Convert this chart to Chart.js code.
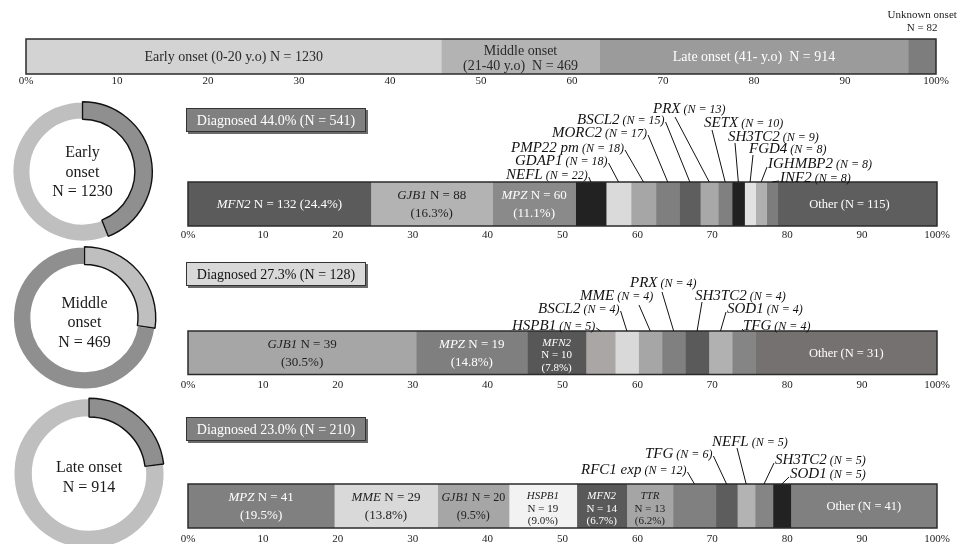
<!DOCTYPE html>
<html>
<head>
<meta charset="utf-8">
<script src="https://cdn.jsdelivr.net/npm/chart.js@4.4.1/dist/chart.umd.min.js"></script>
<style>
html, body { margin: 0; padding: 0; background: #fff; overflow: hidden; }
#wrap { position: relative; width: 967px; height: 544px; overflow: hidden; }
#wrap canvas { position: absolute; left: 0; top: 0; }
</style>
</head>
<body>
<div id="wrap">
  <canvas id="onset" width="967" height="544"></canvas>
  <canvas id="early" width="967" height="544"></canvas>
  <canvas id="middle" width="967" height="544"></canvas>
  <canvas id="late" width="967" height="600"></canvas>
  <canvas id="donutEarly" width="967" height="544"></canvas>
  <canvas id="donutMiddle" width="967" height="544"></canvas>
  <canvas id="donutLate" width="967" height="600"></canvas>
</div>
<script>
// ---- data ----
const onsetGroups = ["Early onset", "Middle onset", "Late onset", "Unknown onset"];
const onsetAges = ["0-20 y.o", "21-40 y.o", "41- y.o", ""];
const onsetCounts = [1230, 469, 914, 82];

const earlyGenes = ["MFN2", "GJB1", "MPZ", "NEFL", "GDAP1", "PMP22 pm", "MORC2", "BSCL2", "PRX", "SETX", "SH3TC2", "FGD4", "IGHMBP2", "INF2", "Other"];
const earlyCounts = [132, 88, 60, 22, 18, 18, 17, 15, 13, 10, 9, 8, 8, 8, 115];

const middleGenes = ["GJB1", "MPZ", "MFN2", "HSPB1", "BSCL2", "MME", "PRX", "SH3TC2", "SOD1", "TFG", "Other"];
const middleCounts = [39, 19, 10, 5, 4, 4, 4, 4, 4, 4, 31];

const lateGenes = ["MPZ", "MME", "GJB1", "HSPB1", "MFN2", "TTR", "RFC1 exp", "TFG", "NEFL", "SH3TC2", "SOD1", "Other"];
const lateCounts = [41, 29, 20, 19, 14, 13, 12, 6, 5, 5, 5, 41];

const tickLabels = ["0%", "10", "20", "30", "40", "50", "60", "70", "80", "90", "100%"];

// ---- styles ----
const SERIF = "'Liberation Serif', 'Times New Roman', serif";
const onsetColors = ["#d3d3d3", "#b3b3b3", "#9b9b9b", "#7d7d7d"];
const earlyColors = ["#5b5b5b", "#b3b3b3", "#8a8a8a", "#222222", "#dadada", "#a6a6a6", "#7f7f7f", "#5e5e5e", "#a8a8a8", "#808080", "#212121", "#e2e2e2", "#b0b0b0", "#7d7d7d", "#5e5e5e"];
const middleColors = ["#a6a6a6", "#7f7f7f", "#575757", "#aba6a6", "#d9d9d9", "#a6a6a6", "#808080", "#5a5a5a", "#b1b1b1", "#858585", "#767171"];
const lateColors = ["#808080", "#d9d9d9", "#a6a6a6", "#f2f2f2", "#595959", "#a5a5a5", "#808080", "#5d5d5d", "#b3b3b3", "#858585", "#222222", "#808080"];
const DARK = "#8f8f8f", LIGHT = "#bfbfbf";

const sum = (a) => a.reduce((s, v) => s + v, 0);
const pct = (n, t) => (n / t * 100).toFixed(1);

function fontOf(run, size) {
  return (run.it ? "italic " : "") + (run.sz || size) + "px " + SERIF;
}

// draw one line of mixed runs, x = centre (or left when left=true), y = middle
function drawLine(ctx, runs, x, y, size, left) {
  let w = 0;
  runs.forEach((r) => { ctx.font = fontOf(r, size); r.w = ctx.measureText(r.t).width; w += r.w; });
  let px = left ? x : x - w / 2;
  ctx.textAlign = "left";
  ctx.textBaseline = "alphabetic";
  runs.forEach((r) => { ctx.font = fontOf(r, size); ctx.fillText(r.t, px, y + size * 0.34); px += r.w; });
  return w;
}

const barDecor = {
  id: "barDecor",
  afterDatasetsDraw(chart, args, opts) {
    const ctx = chart.ctx;
    const xs = chart.scales.x;
    const seg = (i) => chart.getDatasetMeta(i).data[0];
    const b0 = seg(0);
    const top = b0.y - b0.height / 2, bottom = b0.y + b0.height / 2;
    const x0 = xs.getPixelForValue(0), x1 = xs.getPixelForValue(100);
    ctx.save();
    ctx.strokeStyle = "#2b2b2b";
    ctx.lineWidth = 1.5;
    ctx.strokeRect(x0, top, x1 - x0, bottom - top);

    (opts.inside || []).forEach((lab) => {
      const el = seg(lab.i);
      const cx = (el.base + el.x) / 2 + (lab.dx || 0);
      const n = lab.lines.length;
      const cy = lab.above != null ? lab.above : b0.y + (lab.dy || 0);
      ctx.fillStyle = lab.color;
      lab.lines.forEach((line, k) => {
        drawLine(ctx, line, cx, cy + (k - (n - 1) / 2) * lab.gap, lab.size, false);
      });
    });

    (opts.callouts || []).forEach((c) => {
      const el = seg(c.i);
      ctx.fillStyle = "#111";
      const w = drawLine(ctx, [{ t: c.gene, it: true, sz: 15 }, { t: " (N = " + c.n + ")", it: true, sz: 12 }], c.tx, c.ty, 15, true);
      let lx = c.lx, ly = c.ly;
      if (c.from === "end") { lx = c.tx + w + 1; ly = c.ty + 3; }
      if (c.from === "start") { lx = c.tx - 1; ly = c.ty + 4; }
      ctx.strokeStyle = "#111";
      ctx.lineWidth = 1;
      ctx.beginPath();
      ctx.moveTo(lx, ly);
      ctx.lineTo((el.base + el.x) / 2, top);
      ctx.stroke();
    });

    const bx = opts.box;
    if (bx) {
      ctx.fillStyle = "#6a6a6a";
      ctx.fillRect(bx.x + 2, bx.y + 2, bx.w, bx.h);
      ctx.fillStyle = bx.fill;
      ctx.fillRect(bx.x, bx.y, bx.w, bx.h);
      ctx.strokeStyle = "#333";
      ctx.lineWidth = 1;
      ctx.strokeRect(bx.x + 0.5, bx.y + 0.5, bx.w - 1, bx.h - 1);
      ctx.fillStyle = bx.color;
      drawLine(ctx, [{ t: bx.text }], bx.x + bx.w / 2, bx.y + bx.h / 2, 14, false);
    }
    ctx.restore();
  }
};

function stackedBar(id, names, counts, colors, pad, tickPad, decor) {
  const total = sum(counts);
  return new Chart(document.getElementById(id), {
    type: "bar",
    data: {
      labels: [""],
      datasets: names.map((g, i) => ({
        label: g,
        data: [counts[i] / total * 100],
        backgroundColor: colors[i],
        borderWidth: 0,
        barPercentage: 1,
        categoryPercentage: 1,
      })),
    },
    options: {
      indexAxis: "y",
      responsive: false,
      animation: false,
      events: [],
      layout: { padding: pad },
      scales: {
        x: {
          type: "linear", stacked: true, min: 0, max: 100,
          grid: { display: false, drawTicks: false },
          border: { display: false },
          ticks: {
            stepSize: 10, padding: tickPad, autoSkip: false, maxRotation: 0,
            color: "#222", font: { family: SERIF, size: 11, lineHeight: 1 },
            callback: (v, i) => tickLabels[i],
          },
        },
        y: { stacked: true, display: false },
      },
      plugins: { legend: { display: false }, tooltip: { enabled: false }, barDecor: decor },
    },
    plugins: [barDecor],
  });
}

// inside-label builders
function geneLabel(fmt, i, genes, counts, color, extra) {
  const n = counts[i], p = pct(n, sum(counts)) + "%", g = genes[i];
  let lab;
  if (fmt === "one") lab = { size: 13, gap: 0, lines: [[{ t: g, it: true }, { t: " N = " + n + " (" + p + ")" }]] };
  if (fmt === "two") lab = { size: 13, gap: 18, lines: [[{ t: g, it: true }, { t: " N = " + n }], [{ t: "(" + p + ")" }]] };
  if (fmt === "three") lab = { size: 11, gap: 12.5, lines: [[{ t: g, it: true }], [{ t: "N = " + n }], [{ t: "(" + p + ")" }]] };
  if (fmt === "other") lab = { size: 12.5, gap: 0, lines: [[{ t: "Other (N = " + n + ")" }]] };
  return Object.assign(lab, { i, color }, extra || {});
}
function callout(i, genes, counts, pos) {
  return Object.assign({ i, gene: genes[i], n: counts[i] }, pos);
}
function boxFor(k, counts, fill, color, y) {
  const n = sum(counts);
  return { x: 186, y, w: 180, h: 24, fill, color, text: "Diagnosed " + pct(n, onsetCounts[k]) + "% (N = " + n + ")" };
}

// ---- top onset bar ----
stackedBar("onset", onsetGroups, onsetCounts, onsetColors,
  { left: 26, right: 31, top: 39, bottom: 456 }, 1.5,
  {
    inside: [
      { i: 0, size: 14, gap: 0, color: "#2a2a2a", lines: [[{ t: onsetGroups[0] + " (" + onsetAges[0] + ") N = " + onsetCounts[0] }]] },
      { i: 1, size: 14, gap: 15, dy: 1, color: "#2a2a2a", lines: [[{ t: onsetGroups[1] }], [{ t: "(" + onsetAges[1] + ")  N = " + onsetCounts[1] }]] },
      { i: 2, size: 14, gap: 0, color: "#fff", lines: [[{ t: onsetGroups[2] + " (" + onsetAges[2] + ")  N = " + onsetCounts[2] }]] },
      { i: 3, size: 11, gap: 13.5, above: 21, color: "#222", lines: [[{ t: onsetGroups[3] }], [{ t: "N = " + onsetCounts[3] }]] },
    ],
  });

// ---- early onset genes ----
stackedBar("early", earlyGenes, earlyCounts, earlyColors,
  { left: 188, right: 30, top: 182, bottom: 299 }, 4,
  {
    box: boxFor(0, earlyCounts, "#808080", "#fff", 108),
    inside: [
      geneLabel("one", 0, earlyGenes, earlyCounts, "#fff"),
      geneLabel("two", 1, earlyGenes, earlyCounts, "#222"),
      geneLabel("two", 2, earlyGenes, earlyCounts, "#fff"),
      geneLabel("other", 14, earlyGenes, earlyCounts, "#fff", { dx: -8 }),
    ],
    callouts: [
      callout(3, earlyGenes, earlyCounts, { tx: 506, ty: 174, from: "end" }),
      callout(4, earlyGenes, earlyCounts, { tx: 515, ty: 160, from: "end" }),
      callout(5, earlyGenes, earlyCounts, { tx: 511, ty: 147, from: "end" }),
      callout(6, earlyGenes, earlyCounts, { tx: 552, ty: 132, from: "end" }),
      callout(7, earlyGenes, earlyCounts, { tx: 577, ty: 119, from: "end" }),
      callout(8, earlyGenes, earlyCounts, { tx: 653, ty: 108, lx: 675, ly: 117 }),
      callout(9, earlyGenes, earlyCounts, { tx: 704, ty: 122, lx: 712, ly: 130 }),
      callout(10, earlyGenes, earlyCounts, { tx: 728, ty: 136, lx: 735, ly: 143 }),
      callout(11, earlyGenes, earlyCounts, { tx: 749, ty: 148, lx: 753, ly: 155 }),
      callout(12, earlyGenes, earlyCounts, { tx: 768, ty: 163, from: "start" }),
      callout(13, earlyGenes, earlyCounts, { tx: 780, ty: 177, from: "start" }),
    ],
  });

// ---- middle onset genes ----
stackedBar("middle", middleGenes, middleCounts, middleColors,
  { left: 188, right: 30, top: 331, bottom: 148.5 }, 5,
  {
    box: boxFor(1, middleCounts, "#d9d9d9", "#111", 262),
    inside: [
      geneLabel("two", 0, middleGenes, middleCounts, "#222"),
      geneLabel("two", 1, middleGenes, middleCounts, "#fff"),
      geneLabel("three", 2, middleGenes, middleCounts, "#fff", { dy: 2 }),
      geneLabel("other", 10, middleGenes, middleCounts, "#fff"),
    ],
    callouts: [
      callout(3, middleGenes, middleCounts, { tx: 512, ty: 325, from: "end" }),
      callout(4, middleGenes, middleCounts, { tx: 538, ty: 308, from: "end" }),
      callout(5, middleGenes, middleCounts, { tx: 580, ty: 295, lx: 639, ly: 305 }),
      callout(6, middleGenes, middleCounts, { tx: 630, ty: 282, lx: 662, ly: 292 }),
      callout(7, middleGenes, middleCounts, { tx: 695, ty: 295, lx: 702, ly: 302 }),
      callout(8, middleGenes, middleCounts, { tx: 727, ty: 308, from: "start" }),
      callout(9, middleGenes, middleCounts, { tx: 743, ty: 325, from: "start" }),
    ],
  });

// ---- late onset genes (canvas runs below the window so ticks fit) ----
stackedBar("late", lateGenes, lateCounts, lateColors,
  { left: 188, right: 30, top: 484, bottom: 50 }, 5.5,
  {
    box: boxFor(2, lateCounts, "#808080", "#fff", 417),
    inside: [
      geneLabel("two", 0, lateGenes, lateCounts, "#fff"),
      geneLabel("two", 1, lateGenes, lateCounts, "#222"),
      geneLabel("two", 2, lateGenes, lateCounts, "#222", { size: 12 }),
      geneLabel("three", 3, lateGenes, lateCounts, "#222", { dy: 2 }),
      geneLabel("three", 4, lateGenes, lateCounts, "#fff", { dy: 2 }),
      geneLabel("three", 5, lateGenes, lateCounts, "#222", { dy: 2 }),
      geneLabel("other", 11, lateGenes, lateCounts, "#fff"),
    ],
    callouts: [
      callout(6, lateGenes, lateCounts, { tx: 581, ty: 469, from: "end" }),
      callout(7, lateGenes, lateCounts, { tx: 645, ty: 453, from: "end" }),
      callout(8, lateGenes, lateCounts, { tx: 712, ty: 441, lx: 737, ly: 448 }),
      callout(9, lateGenes, lateCounts, { tx: 775, ty: 459, from: "start" }),
      callout(10, lateGenes, lateCounts, { tx: 790, ty: 473, from: "start" }),
    ],
  });

// ---- donuts ----
const centerText = {
  id: "centerText",
  afterDraw(chart, args, opts) {
    const arc = chart.getDatasetMeta(0).data[0];
    const ctx = chart.ctx;
    ctx.save();
    ctx.fillStyle = "#1a1a1a";
    const n = opts.lines.length;
    opts.lines.forEach((t, k) => {
      drawLine(ctx, [{ t }], arc.x, arc.y + opts.dy + (k - (n - 1) / 2) * 19.5, 16, false);
    });
    ctx.restore();
  }
};

function donut(id, k, diagCount, restColor, diagColor, pad, lines, dy) {
  const rest = onsetCounts[k] - diagCount;
  return new Chart(document.getElementById(id), {
    type: "doughnut",
    data: {
      labels: ["Undiagnosed", "Diagnosed"],
      datasets: [{
        data: [rest, diagCount],
        backgroundColor: [restColor, diagColor],
        borderColor: ["#ffffff", "#111111"],
        borderWidth: [1.5, 1.4],
      }],
    },
    options: {
      responsive: false,
      animation: false,
      events: [],
      cutout: "75%",
      rotation: diagCount / onsetCounts[k] * 360,
      layout: { padding: pad },
      plugins: { legend: { display: false }, tooltip: { enabled: false }, centerText: { lines, dy } },
    },
    plugins: [centerText],
  });
}

donut("donutEarly", 0, sum(earlyCounts), LIGHT, DARK,
  { left: 12, right: 814, top: 101, bottom: 302 }, ["Early", "onset", "N = " + onsetCounts[0]], 0);
donut("donutMiddle", 1, sum(middleCounts), DARK, LIGHT,
  { left: 12, right: 810, top: 246, bottom: 154 }, ["Middle", "onset", "N = " + onsetCounts[1]], 4);
donut("donutLate", 2, sum(lateCounts), LIGHT, DARK,
  { left: 13, right: 802, top: 397, bottom: 50 }, ["Late onset", "N = " + onsetCounts[2]], 3);
</script>
</body>
</html>
